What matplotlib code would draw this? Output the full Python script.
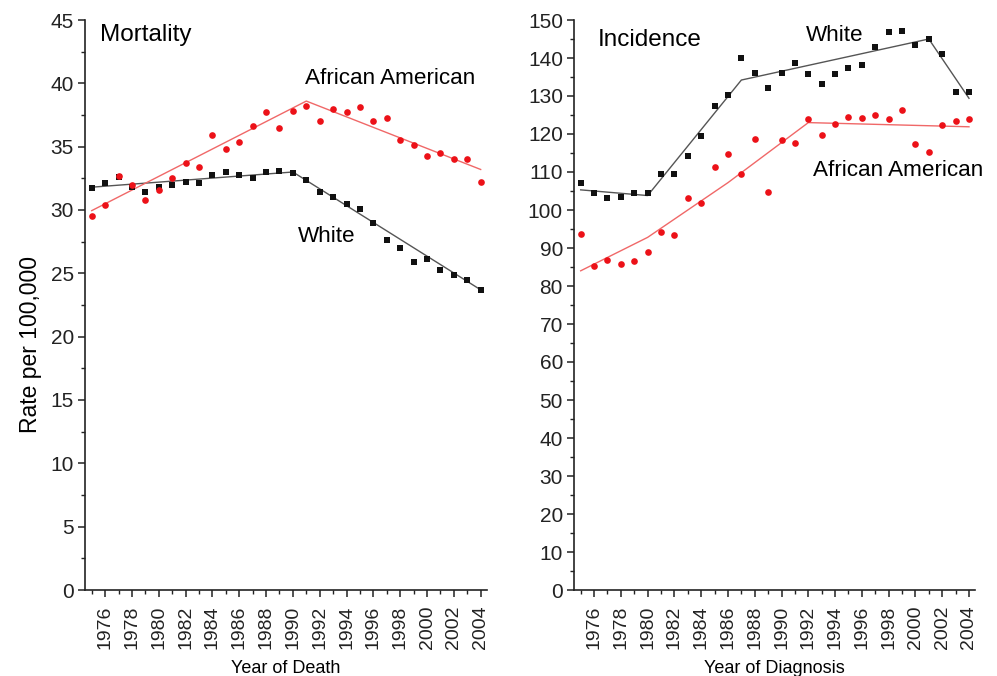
import numpy as np
import matplotlib
matplotlib.use("Agg")
import matplotlib.pyplot as plt
from matplotlib.ticker import MultipleLocator

plt.rcParams['font.family'] = ['Liberation Sans', 'DejaVu Sans']

years = list(range(1975, 2005))

# Mortality, rate per 100,000
mort_white = [31.7, 32.1, 32.6, 31.8, 31.4, 31.8, 32.0, 32.2, 32.1, 32.8,
              33.0, 32.8, 32.5, 33.0, 33.1, 32.9, 32.4, 31.4, 31.0, 30.5,
              30.1, 29.0, 27.6, 27.0, 25.9, 26.1, 25.3, 24.9, 24.5, 23.7]
mort_aa = [29.5, 30.4, 32.7, 32.0, 30.8, 31.6, 32.5, 33.7, 33.4, 35.9,
           34.8, 35.4, 36.6, 37.7, 36.5, 37.8, 38.2, 37.0, 38.0, 37.7,
           38.1, 37.0, 37.3, 35.5, 35.1, 34.3, 34.5, 34.0, 34.0, 32.2]

# Mortality trend (joinpoints)
mort_white_trend_x = [1975, 1990, 2004]
mort_white_trend_y = [31.8, 33.0, 23.7]
mort_aa_trend_x = [1975, 1991, 2004]
mort_aa_trend_y = [29.95, 38.6, 33.2]

# Incidence, rate per 100,000
inc_white = [107.0, 104.6, 103.2, 103.3, 104.6, 104.6, 109.6, 109.6, 114.2, 119.6,
             127.4, 130.2, 140.0, 136.1, 132.1, 136.1, 138.7, 135.7, 133.2, 135.8,
             137.5, 138.2, 142.8, 146.9, 147.1, 143.5, 145.0, 141.0, 131.0, 131.0]
inc_aa = [93.6, 85.2, 86.9, 85.9, 86.6, 89.0, 94.1, 93.4, 103.2, 101.9,
          111.3, 114.8, 109.4, 118.6, 104.8, 118.3, 117.5, 123.9, 119.8, 122.6,
          124.6, 124.3, 125.1, 123.9, 126.3, 117.4, 115.3, 122.3, 123.5, 123.9]

# Incidence trend (joinpoints plus read points along the curved segment)
inc_white_trend_x = [1975, 1980, 1987, 2001, 2004]
inc_white_trend_y = [105.3, 103.8, 134.2, 145.0, 129.4]
inc_aa_trend_x = [1975, 1980, 1986, 1992, 2004]
inc_aa_trend_y = [84.0, 92.8, 107.2, 123.0, 121.9]

BLACK = '#111111'
RED = '#ec1118'
LINE_BLACK = '#555555'
LINE_RED = '#f06868'

fig = plt.figure(figsize=(9.97, 6.76), dpi=100)
ax1 = fig.add_axes([85/997, 86/676, 401.7/997, 570/676])
ax2 = fig.add_axes([574/997, 86/676, 401/997, 570/676])

TITLE_FS = 17.5
SERIES_FS = 16.2


def style(ax, ymax, ymajor, yminor):
    ax.set_xlim(1974.5, 2004.45)
    ax.set_ylim(0, ymax)
    for s in ('top', 'right'):
        ax.spines[s].set_visible(False)
    for s in ('left', 'bottom'):
        ax.spines[s].set_linewidth(1.2)
        ax.spines[s].set_color('#222222')
    ax.xaxis.set_minor_locator(MultipleLocator(1))
    ax.yaxis.set_major_locator(MultipleLocator(ymajor))
    ax.yaxis.set_minor_locator(MultipleLocator(yminor))
    ax.set_xticks(range(1976, 2005, 2))
    ax.set_xticklabels([str(y) for y in range(1976, 2005, 2)], rotation=90)
    ax.tick_params(which='major', direction='out', length=5, width=1.1,
                   colors='#222222')
    ax.tick_params(axis='x', which='major', labelsize=14, pad=6)
    ax.tick_params(axis='y', which='major', labelsize=15, pad=3)
    ax.tick_params(which='minor', direction='out', length=3, width=1.0,
                   colors='#222222')


# Mortality panel
ax1.plot(mort_white_trend_x, mort_white_trend_y, color=LINE_BLACK, lw=1.0, zorder=2)
ax1.plot(mort_aa_trend_x, mort_aa_trend_y, color=LINE_RED, lw=1.0, zorder=2)
ax1.plot(years, mort_white, 's', color=BLACK, ms=4.2, mew=0, zorder=3)
ax1.plot(years, mort_aa, 'o', color=RED, ms=4.8, mew=0, zorder=3)
style(ax1, 45, 5, 2.5)
ax1.set_ylabel('Rate per 100,000', fontsize=16.5)
ax1.yaxis.set_label_coords(-0.107, 0.43)
ax1.set_xlabel('Year of Death', fontsize=13, labelpad=8)
ax1.text(1975.6, 43.8, 'Mortality', fontsize=TITLE_FS, ha='left', va='center')
ax1.text(1990.9, 40.4, 'African American', fontsize=SERIES_FS, ha='left', va='center')
ax1.text(1990.4, 27.9, 'White', fontsize=SERIES_FS, ha='left', va='center')

# Incidence panel
ax2.plot(inc_white_trend_x, inc_white_trend_y, color=LINE_BLACK, lw=1.0, zorder=2)
ax2.plot(inc_aa_trend_x, inc_aa_trend_y, color=LINE_RED, lw=1.0, zorder=2)
ax2.plot(years, inc_white, 's', color=BLACK, ms=4.2, mew=0, zorder=3)
ax2.plot(years, inc_aa, 'o', color=RED, ms=4.8, mew=0, zorder=3)
style(ax2, 150, 10, 5)
ax2.set_xlabel('Year of Diagnosis', fontsize=13, labelpad=8)
ax2.text(1976.3, 144.7, 'Incidence', fontsize=TITLE_FS, ha='left', va='center')
ax2.text(1991.8, 145.8, 'White', fontsize=SERIES_FS, ha='left', va='center')
ax2.text(1992.35, 110.5, 'African American', fontsize=SERIES_FS, ha='left',
         va='center', clip_on=False)

fig.savefig('out.png', dpi=100)
